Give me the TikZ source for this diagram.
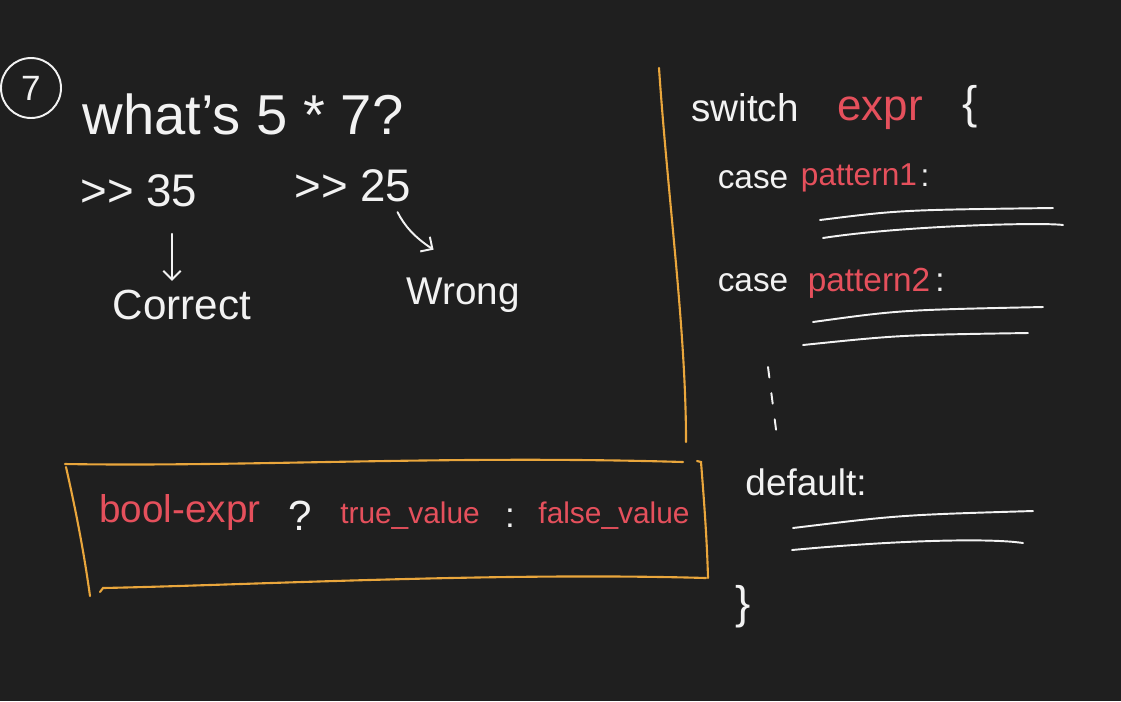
\documentclass[tikz,border=0pt]{standalone}
\usepackage{fontspec}
\setmainfont{Liberation Sans}
\usetikzlibrary{arrows.meta}

\definecolor{board}{HTML}{1F1F1F}
\definecolor{chalk}{HTML}{F2F2F2}
\definecolor{inkred}{HTML}{E5505C}
\definecolor{inkorange}{HTML}{E9A63C}

\tikzset{
    chalk/.style={text=chalk, inner sep=1pt},
    redink/.style={text=inkred, inner sep=1pt},
    pen/.style={draw=chalk, line width=1.1pt, line cap=round},
    marker/.style={draw=inkorange, line width=1.2pt, line cap=round},
    >={Straight Barb[length=5pt,width=10pt]}
}
\newcommand{\fs}[1]{\fontsize{#1}{#1}\selectfont}

\begin{document}
\begin{tikzpicture}[x=0.02cm, y=-0.02cm]
        \fill[board] (0,0) rectangle (1121,701);

        % left: the question
        \node[circle, draw=chalk, line width=1.1pt, minimum size=1.2cm, inner sep=0pt, text=chalk, font=\fs{20}] at (31,88) (num) {7};
        \node[chalk, font=\fs{32}] at (243,114) (question) {what's 5 * 7?};
        \node[chalk, font=\fs{26}] at (139,191) (ans_35) {{>}{>} 35};
        \node[chalk, font=\fs{26}] at (353,186) (ans_25) {{>}{>} 25};
        \node[chalk, font=\fs{24}] at (182,305) (correct) {Correct};
        \node[chalk, font=\fs{22}] at (463,295) (wrong) {Wrong};
        \draw[pen, ->, shorten <=14pt, shorten >=4pt] ([xshift=-0.2cm]correct.north |- ans_35.south) -- ([xshift=-0.2cm]correct.north);
        \draw[pen, ->, shorten <=5pt, shorten >=1pt] ([xshift=-0.4cm]ans_25.south east) to[bend right=15] ([xshift=-0.56cm, yshift=0.5cm]wrong.north);

        % divider
        \draw[marker] (659,68) .. controls (668,200) and (686,330) .. (686,442);

        % ternary box
        \draw[marker] (65,464) .. controls (250,467) and (450,455) .. (683,462);
        \draw[marker] (66,467) .. controls (78,520) and (85,560) .. (90,596);
        \draw[marker] (697,461) -- (701,462) .. controls (704,500) and (707,540) .. (708,578);
        \draw[marker] (706,578) .. controls (500,572) and (250,585) .. (103,588) -- (100,592);
        \node[redink, font=\fs{22}] at (180,512) (bool) {bool-expr};
        \node[chalk, font=\fs{24}] at (300,516) (qmark) {?};
        \node[redink, font=\fs{17}] at (410,516) (trueval) {true\_value};
        \node[chalk, font=\fs{20}] at (510,518) (colon) {:};
        \node[redink, font=\fs{17}] at (614,516) (falseval) {false\_value};

        % right: switch
        \node[chalk, font=\fs{22}] at (745,108) (switch) {switch};
        \node[redink, font=\fs{25}] at (880,113) (expr) {expr};
        \node[chalk, font=\fs{26}] at (970,107) (open) {\{};

        \node[chalk, font=\fs{19}] at (753,180) (case_1) {case};
        \node[redink, font=\fs{18}] at (859,178) (pattern_1) {pattern1};
        \node[chalk, font=\fs{18}] at (925,178) (colon_1) {:};
        \draw[pen] (820,220) .. controls (900,210) .. (1053,208);
        \draw[pen] (823,238) .. controls (900,226) and (1040,222) .. (1063,225);

        \node[chalk, font=\fs{19}] at (753,283) (case_2) {case};
        \node[redink, font=\fs{19}] at (869,283) (pattern_2) {pattern2};
        \node[chalk, font=\fs{19}] at (940,283) (colon_2) {:};
        \draw[pen] (813,322) .. controls (900,310) .. (1043,307);
        \draw[pen] (803,345) .. controls (900,335) .. (1028,333);

        \draw[pen, dash pattern=on 6pt off 9pt] (768,367) -- (778,445);

        \node[chalk, font=\fs{21}] at (806,482) (default) {default:};
        \draw[pen] (793,528) .. controls (900,515) .. (1033,511);
        \draw[pen] (792,550) .. controls (900,540) and (990,538) .. (1023,543);

        \node[chalk, font=\fs{26}] at (743,607) (close) {\}};
\end{tikzpicture}
\end{document}
